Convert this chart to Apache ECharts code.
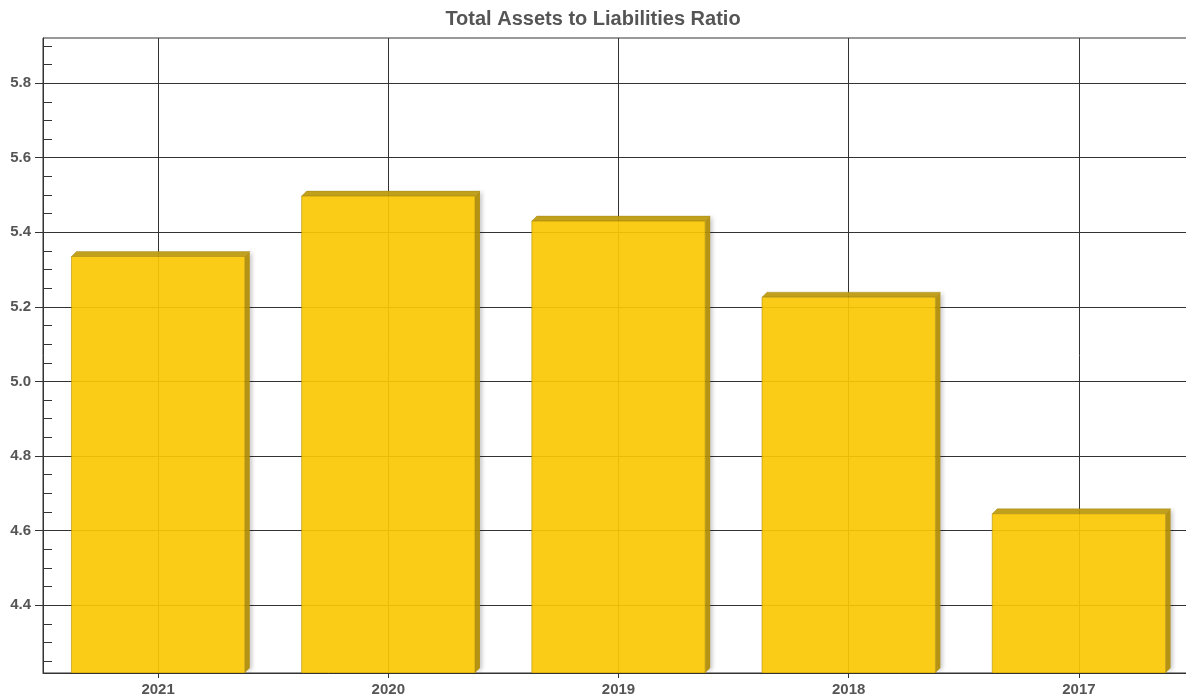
<!DOCTYPE html>
<html><head><meta charset="utf-8">
<script src="https://cdn.jsdelivr.net/npm/echarts@6/dist/echarts.min.js"></script>
<style>html,body{margin:0;padding:0;background:#fff}#c{width:1186px;height:700px}</style>
</head><body><div id="c"></div>
<script>
const categories = ['2021', '2020', '2019', '2018', '2017'];
const ratioValues = [5.335, 5.497, 5.430, 5.226, 4.645];
const yRange = [4.218, 5.921];
const yTickValues = [4.4, 4.6, 4.8, 5.0, 5.2, 5.4, 5.6, 5.8];
const xTickValues = [0, 1, 2, 3, 4];

const chart = echarts.init(document.getElementById('c'));
const FONT = '"Liberation Sans", Arial, sans-serif';
const seriesData = ratioValues.map((v, i) => [i, v]);

chart.setOption({
  animation: false,
  title: {
    text: 'Total Assets to Liabilities Ratio',
    left: 'center', top: 4,
    textStyle: { fontFamily: FONT, fontSize: 20, fontWeight: 'bold', color: '#555' }
  },
  grid: { left: 43, width: 1151, top: 38, bottom: 27, outerBoundsMode: 'none', containLabel: false,
          show: true, borderColor: '#333', borderWidth: 1, backgroundColor: 'transparent' },
  xAxis: {
    type: 'value', min: -0.5, max: 4.5, splitNumber: 5,
    axisLine: { show: true, onZero: false, lineStyle: { color: '#333', width: 1 } },
    axisTick: { show: true, length: 5, customValues: xTickValues, lineStyle: { color: '#333' } },
    axisLabel: {
      customValues: xTickValues, margin: 9,
      formatter: v => categories[Math.round(v)] || '',
      fontFamily: FONT, fontSize: 15, fontWeight: 'bold', color: '#555'
    },
    splitLine: { show: true, lineStyle: { color: '#333', width: 1 } }
  },
  yAxis: {
    type: 'value', min: yRange[0], max: yRange[1], splitNumber: 8,
    axisLine: { show: true, onZero: false, lineStyle: { color: '#333', width: 1 } },
    axisTick: { show: true, length: 8, customValues: yTickValues, lineStyle: { color: '#333' } },
    minorTick: { show: true, splitNumber: 4, length: -9, lineStyle: { color: '#333' } },
    axisLabel: {
      customValues: yTickValues, margin: 12,
      formatter: v => v.toFixed(1),
      fontFamily: FONT, fontSize: 15, fontWeight: 'bold', color: '#555'
    },
    splitLine: { show: true, lineStyle: { color: '#333', width: 1 } }
  },
  series: [{
    type: 'custom',
    clip: true,
    data: seriesData,
    renderItem: function (params, api) {
      const idx = api.value(0), val = api.value(1);
      const top = api.coord([idx, val]);
      const base = api.coord([idx, yRange[0]]);
      const band = api.size([1, 0])[0];
      const w = band * 0.753;
      const x0 = top[0] - w / 2, x1 = top[0] + w / 2;
      const y0 = top[1], y1 = base[1];
      const d = 5;
      return {
        type: 'group',
        children: [
          { type: 'polygon',
            shape: { points: [[x1, y0], [x1 + d, y0 - d], [x1 + d, y1 - d], [x1, y1]] },
            style: { fill: 'rgba(178,142,8,0.95)', shadowBlur: 4, shadowOffsetX: 2, shadowColor: 'rgba(0,0,0,0.25)' } },
          { type: 'polygon',
            shape: { points: [[x0, y0], [x0 + d, y0 - d], [x1 + d, y0 - d], [x1, y0]] },
            style: { fill: 'rgba(190,155,18,0.95)', stroke: 'rgba(150,120,10,0.6)', lineWidth: 0.6 } },
          { type: 'rect',
            shape: { x: x0, y: y0, width: w, height: y1 - y0 },
            style: { fill: 'rgba(250,200,3,0.92)', stroke: 'rgba(170,135,0,0.55)', lineWidth: 1 } }
        ]
      };
    }
  }]
});
</script>
</body></html>
